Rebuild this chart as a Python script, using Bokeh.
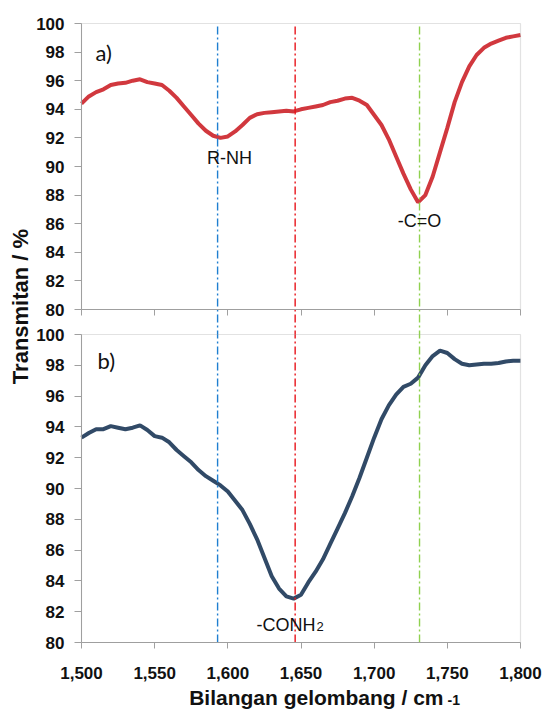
import math
from bokeh.plotting import figure
from bokeh.models import (Range1d, LinearAxis, BoxAnnotation, Label,
                          FixedTicker, NumeralTickFormatter)
from bokeh.embed import file_html
from bokeh.resources import INLINE

# ---------------- data ----------------
wavenumber_a = [1500, 1505, 1510, 1515, 1520, 1525, 1530, 1535, 1540, 1545, 1550, 1555,
                1560, 1565, 1570, 1575, 1580, 1585, 1590, 1595, 1600, 1605, 1610, 1615,
                1620, 1625, 1630, 1635, 1640, 1645, 1650, 1655, 1660, 1665, 1670, 1675,
                1680, 1685, 1690, 1695, 1700, 1705, 1710, 1715, 1720, 1725, 1730, 1735,
                1740, 1745, 1750, 1755, 1760, 1765, 1770, 1775, 1780, 1785, 1790, 1795, 1800]
transmittance_a = [94.4, 94.9, 95.2, 95.4, 95.7, 95.8, 95.85, 96.0, 96.1, 95.9, 95.8, 95.7,
                   95.3, 94.8, 94.2, 93.6, 93.0, 92.5, 92.15, 92.0, 92.1, 92.45, 92.9, 93.4,
                   93.65, 93.75, 93.8, 93.85, 93.9, 93.85, 94.0, 94.1, 94.2, 94.3, 94.5, 94.6,
                   94.75, 94.8, 94.6, 94.3, 93.6, 92.9, 91.9, 90.7, 89.5, 88.4, 87.5, 88.0,
                   89.3, 91.0, 92.7, 94.5, 95.9, 97.0, 97.8, 98.3, 98.6, 98.8, 99.0, 99.1, 99.2]

wavenumber_b = [1500, 1505, 1510, 1515, 1520, 1525, 1530, 1535, 1540, 1545, 1550, 1555,
                1560, 1565, 1570, 1575, 1580, 1585, 1590, 1595, 1600, 1605, 1610, 1615,
                1620, 1625, 1630, 1635, 1640, 1645, 1650, 1655, 1660, 1665, 1670, 1675,
                1680, 1685, 1690, 1695, 1700, 1705, 1710, 1715, 1720, 1725, 1730, 1735,
                1740, 1745, 1750, 1755, 1760, 1765, 1770, 1775, 1780, 1785, 1790, 1795, 1800]
transmittance_b = [93.3, 93.6, 93.85, 93.85, 94.05, 93.95, 93.85, 93.95, 94.1, 93.8, 93.4, 93.3,
                   93.0, 92.5, 92.1, 91.7, 91.2, 90.8, 90.5, 90.2, 89.8, 89.2, 88.6, 87.7,
                   86.7, 85.5, 84.3, 83.5, 83.0, 82.85, 83.1, 83.9, 84.6, 85.4, 86.4, 87.4,
                   88.4, 89.5, 90.7, 92.0, 93.3, 94.5, 95.4, 96.1, 96.6, 96.8, 97.2, 98.0,
                   98.6, 98.95, 98.8, 98.4, 98.1, 98.0, 98.05, 98.1, 98.1, 98.15, 98.25, 98.3, 98.3]

peak_positions = [1593, 1646, 1731]
peak_colors = ["#1F7FD0", "#E8141B", "#8FD14F"]
peak_labels = ["R-NH", "-C=O"]

y_ticks = [80, 82, 84, 86, 88, 90, 92, 94, 96, 98, 100]
x_ticks = [1500, 1550, 1600, 1650, 1700, 1750, 1800]
X_MIN, X_MAX = 1500, 1800
Y_MIN, Y_MAX = 80, 100

# ---------------- layout (pixels) ----------------
W, H = 549, 711
PX_L, PX_R = 81, 520          # panel left / right edges
TOP_T, TOP_B = 23, 309        # panel a) top / bottom
BOT_T, BOT_B = 334, 642       # panel b) top / bottom

sx = (PX_R - PX_L) / (X_MAX - X_MIN)
s_top = (TOP_B - TOP_T) / (Y_MAX - Y_MIN)
s_bot = (BOT_B - BOT_T) / (Y_MAX - Y_MIN)

x_range = Range1d(X_MIN - PX_L / sx, X_MAX + (W - PX_R) / sx)
y_bot = Range1d(Y_MIN - (H - BOT_B) / s_bot, Y_MAX + BOT_T / s_bot)
y_top = Range1d(Y_MIN - (H - TOP_B) / s_top, Y_MAX + TOP_T / s_top)


def xd(px):
    return X_MIN + (px - PX_L) / sx


def yb(py):
    return Y_MAX + (BOT_T - py) / s_bot


def yt(py):
    return Y_MAX + (TOP_T - py) / s_top


GRAY = "#A0A0A0"
FONT = "Liberation Sans"
TICK_FS = "17px"
TXT = "#111111"

p = figure(width=W, height=H, x_range=x_range, y_range=y_bot,
           x_axis_location=None, y_axis_location=None,
           output_backend="svg", toolbar_location=None,
           min_border=0, min_border_left=0, min_border_right=0,
           min_border_top=0, min_border_bottom=0)
p.extra_y_ranges = {"top": y_top}
p.grid.visible = False
p.outline_line_color = None
p.background_fill_color = "white"
p.border_fill_color = "white"


def make_y(range_name):
    ax = LinearAxis(y_range_name=range_name, fixed_location=X_MIN, bounds=(Y_MIN, Y_MAX))
    ax.ticker = FixedTicker(ticks=y_ticks)
    ax.major_label_text_font = FONT
    ax.major_label_text_font_style = "bold"
    ax.major_label_text_font_size = TICK_FS
    ax.major_label_text_color = TXT
    ax.major_label_standoff = 10
    ax.axis_line_color = GRAY
    ax.major_tick_line_color = GRAY
    ax.major_tick_out = 7
    ax.major_tick_in = 0
    ax.minor_tick_line_color = None
    return ax


def make_x(range_name):
    ax = LinearAxis(y_range_name=range_name, fixed_location=Y_MIN, bounds=(X_MIN, X_MAX))
    ax.ticker = FixedTicker(ticks=x_ticks)
    ax.axis_line_color = GRAY
    ax.major_tick_line_color = GRAY
    ax.major_tick_out = 6
    ax.major_tick_in = 0
    ax.minor_tick_line_color = None
    ax.major_label_text_font = FONT
    ax.major_label_text_font_style = "bold"
    ax.major_label_text_font_size = TICK_FS
    ax.major_label_text_color = TXT
    return ax


# panel frames
p.add_layout(BoxAnnotation(left=X_MIN, right=X_MAX, bottom=Y_MIN, top=Y_MAX, y_range_name="top",
                           fill_color=None, line_color=GRAY, line_width=1.2))
p.add_layout(BoxAnnotation(left=X_MIN, right=X_MAX, bottom=Y_MIN, top=Y_MAX,
                           fill_color=None, line_color=GRAY, line_width=1.2))

# axes
p.add_layout(make_y("top"), "left")
p.add_layout(make_y("default"), "left")
xa_top = make_x("top")
xa_top.major_label_overrides = {t: "" for t in x_ticks}
p.add_layout(xa_top, "below")
xa_bot = make_x("default")
xa_bot.formatter = NumeralTickFormatter(format="0,0")
xa_bot.major_label_standoff = 18
p.add_layout(xa_bot, "below")

# spectra
p.line(wavenumber_a, transmittance_a, y_range_name="top",
       line_color="#CC2229", line_width=4, line_alpha=0.9)
p.line(wavenumber_b, transmittance_b,
       line_color="#26405F", line_width=4, line_alpha=0.95)

# peak marker lines across both panels
p.segment(x0=peak_positions, x1=peak_positions,
          y0=[Y_MIN] * len(peak_positions), y1=[yb(TOP_T)] * len(peak_positions),
          line_color=peak_colors, line_width=1.4, line_dash="8 3 2 3")

# panel letters
p.add_layout(Label(x=xd(95), y=yt(52), y_range_name="top", text="a)", text_font="Lato",
                   text_font_size="22px", text_baseline="middle", text_color=TXT))
p.add_layout(Label(x=xd(97), y=yb(360), text="b)", text_font="Lato",
                   text_font_size="22px", text_baseline="middle", text_color=TXT))

# peak annotations
p.add_layout(Label(x=xd(229), y=yt(157), y_range_name="top", text=peak_labels[0], text_font=FONT,
                   text_font_size="18px", text_align="center", text_baseline="middle",
                   text_color=TXT))
p.add_layout(Label(x=xd(419), y=yt(220), y_range_name="top", text=peak_labels[1], text_font=FONT,
                   text_font_size="18px", text_align="center", text_baseline="middle",
                   text_color=TXT))
p.add_layout(Label(x=xd(256), y=yb(624), text="-CONH", text_font=FONT,
                   text_font_size="18px", text_align="left", text_baseline="alphabetic",
                   text_color=TXT))
p.add_layout(Label(x=xd(316), y=yb(626), text="2", text_font=FONT,
                   text_font_size="13px", text_align="left", text_baseline="alphabetic",
                   text_color=TXT))

# axis titles
p.add_layout(Label(x=xd(20), y=yb(306), text="Transmitan / %", text_font=FONT,
                   text_font_style="bold", text_font_size="22px", angle=math.pi / 2,
                   text_align="center", text_baseline="middle", text_color=TXT))
p.add_layout(Label(x=xd(443), y=yb(697), text="Bilangan gelombang / cm", text_font=FONT,
                   text_font_style="bold", text_font_size="21px", text_align="right",
                   text_baseline="alphabetic", text_color=TXT))
p.add_layout(Label(x=xd(447), y=yb(699), text="-1", text_font=FONT,
                   text_font_style="bold", text_font_size="14px", text_align="left",
                   text_baseline="alphabetic", text_color=TXT))

open("out.html", "w").write(file_html(p, INLINE))
